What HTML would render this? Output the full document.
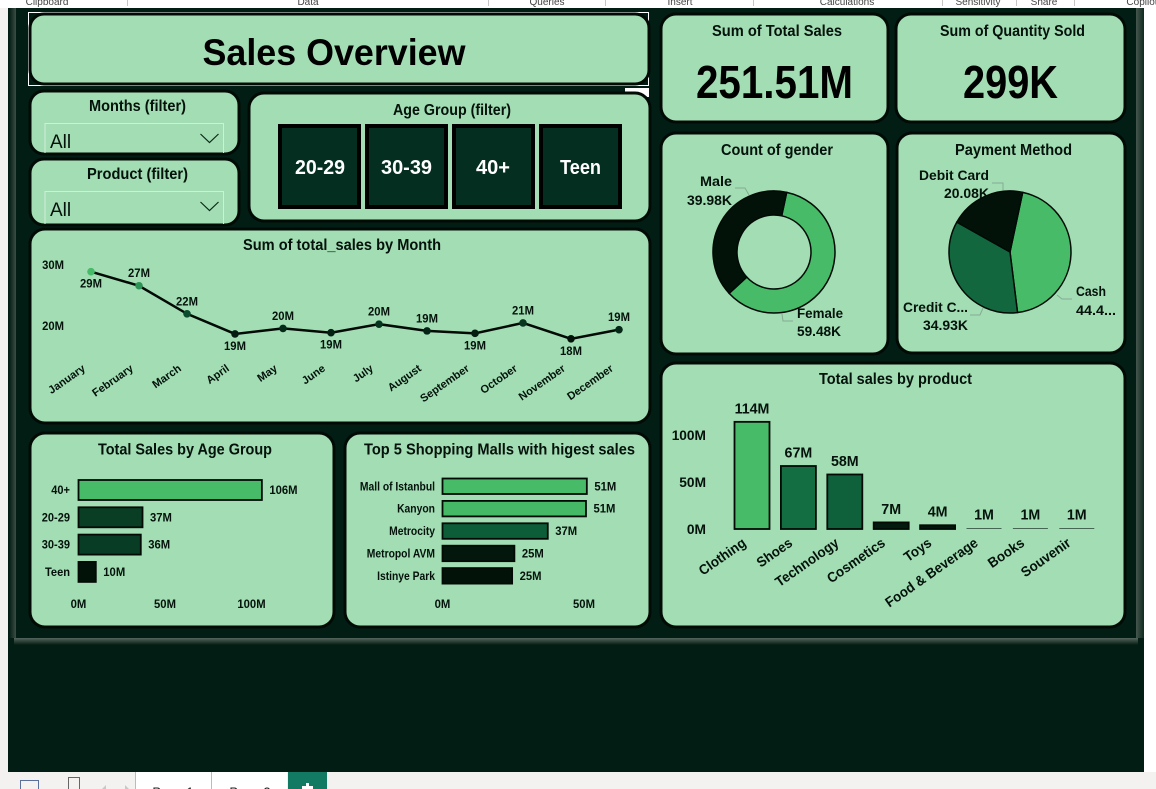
<!DOCTYPE html>
<html lang="en">
<head>
<meta charset="utf-8">
<title>Sales Overview</title>
<style>
html,body{margin:0;padding:0;width:1156px;height:789px;overflow:hidden;background:#fff}
svg{display:block;font-family:"Liberation Sans",sans-serif}
text{fill:#04120b;font-weight:bold}
.panel{fill:#a2ddb4;stroke:#020a06;stroke-width:3}
.light{font-weight:normal}
.leader{fill:none;stroke:#86ab93;stroke-width:1}
</style>
</head>
<body>
<svg id="dash" width="1156" height="789" viewBox="0 0 1156 789" xmlns="http://www.w3.org/2000/svg">
<defs>
<linearGradient id="gl" x1="0" x2="1" y1="0" y2="0"><stop offset="0" stop-color="#021d13"/><stop offset="1" stop-color="#3c4d45"/></linearGradient>
<linearGradient id="gr" x1="0" x2="1" y1="0" y2="0"><stop offset="0" stop-color="#46564e"/><stop offset="1" stop-color="#0e2a20"/></linearGradient>
<linearGradient id="gb" x1="0" x2="0" y1="0" y2="1"><stop offset="0" stop-color="#55655d"/><stop offset="1" stop-color="#021d13"/></linearGradient>
</defs>
<g>
<rect width="1156" height="789" fill="#ffffff"/>
<rect x="0" y="0" width="8" height="789" fill="#f3f2f1"/>
<rect x="0" y="0" width="1156" height="8" fill="#ffffff"/>
<rect x="8" y="8" width="1136" height="764" fill="#021d13"/>
<rect x="9" y="8" width="7" height="630" fill="url(#gl)"/>
<rect x="1136" y="8" width="8" height="630" fill="url(#gr)"/>
<rect x="14" y="638" width="1124" height="7" fill="url(#gb)"/>
<rect x="0" y="772" width="1156" height="17" fill="#f3f2f1"/>
<g font-size="10">
<text class="light" style="fill:#444" x="47" y="5" text-anchor="middle">Clipboard</text>
<text class="light" style="fill:#444" x="308" y="5" text-anchor="middle">Data</text>
<text class="light" style="fill:#444" x="547" y="5" text-anchor="middle">Queries</text>
<text class="light" style="fill:#444" x="680" y="5" text-anchor="middle">Insert</text>
<text class="light" style="fill:#444" x="847" y="5" text-anchor="middle">Calculations</text>
<text class="light" style="fill:#444" x="978" y="5" text-anchor="middle">Sensitivity</text>
<text class="light" style="fill:#444" x="1044" y="5" text-anchor="middle">Share</text>
<text class="light" style="fill:#444" x="1142" y="5" text-anchor="middle">Copilot</text>
</g>
<g stroke="#c8c6c4" stroke-width="1">
<line x1="127.500" y1="0" x2="127.500" y2="6"/><line x1="488.500" y1="0" x2="488.500" y2="6"/><line x1="605.500" y1="0" x2="605.500" y2="6"/><line x1="753.500" y1="0" x2="753.500" y2="6"/><line x1="942.500" y1="0" x2="942.500" y2="6"/><line x1="1016.500" y1="0" x2="1016.500" y2="6"/><line x1="1074.500" y1="0" x2="1074.500" y2="6"/>
</g>
<rect x="20.500" y="780.500" width="18" height="12" fill="none" stroke="#5a6f9a"/>
<rect x="68.500" y="777.500" width="11" height="15" fill="none" stroke="#666"/>
<path d="M106 785l-4 4h4zM125 785l4 4h-4z" fill="#c8c8c8"/>
<rect x="136" y="772" width="75" height="17" fill="#ffffff"/>
<rect x="212" y="772" width="75" height="17" fill="#ffffff"/>
<line x1="135.500" y1="772" x2="135.500" y2="789" stroke="#bdbbb9"/>
<line x1="211.500" y1="772" x2="211.500" y2="789" stroke="#bdbbb9"/>
<text class="light" style="fill:#222" x="173" y="796.500" font-size="13" text-anchor="middle">Page 1</text>
<text class="light" style="fill:#222" x="250" y="796.500" font-size="13" text-anchor="middle">Page 2</text>
<rect x="288" y="772" width="39" height="17" fill="#127a63"/>
<path d="M307.500 783v6M302 787.500h11" stroke="#fff" stroke-width="3"/>
</g>

<g>
<rect x="28.500" y="12.500" width="620" height="73" fill="none" stroke="#ffffff" stroke-width="1"/>
<rect class="panel" x="30" y="14" width="619" height="70" rx="14"/>
<text x="334" y="65" font-size="37" text-anchor="middle" textLength="263" lengthAdjust="spacingAndGlyphs" style="fill:#000">Sales Overview</text>
</g>

<g>
<rect class="panel" x="30" y="91" width="209" height="63" rx="14"/>
<text x="137.500" y="111" font-size="15.500" text-anchor="middle" textLength="97" lengthAdjust="spacingAndGlyphs">Months (filter)</text>
<path d="M45 153V123.500H223.500V153" fill="none" stroke="#d2eeda" stroke-width="1"/>
<text class="light" x="50" y="148" font-size="19">All</text>
<path d="M200.500 134l9 8.500 9-8.500" fill="none" stroke="#0c2a1a" stroke-width="1.200"/>
</g>
<g>
<rect class="panel" x="30" y="159" width="209" height="66" rx="14"/>
<text x="137.500" y="179" font-size="15.500" text-anchor="middle" textLength="101" lengthAdjust="spacingAndGlyphs">Product (filter)</text>
<path d="M45 224V191.500H223.500V224" fill="none" stroke="#d2eeda" stroke-width="1"/>
<text class="light" x="50" y="216" font-size="19">All</text>
<path d="M200.500 202l9 8.500 9-8.500" fill="none" stroke="#0c2a1a" stroke-width="1.200"/>
</g>

<rect x="625" y="88" width="24" height="9" fill="#ffffff"/>
<g>
<rect class="panel" x="249" y="93" width="401" height="128" rx="15"/>
<text x="452" y="115" font-size="15.500" text-anchor="middle" textLength="118" lengthAdjust="spacingAndGlyphs">Age Group (filter)</text>
<g stroke="#000" stroke-width="4" fill="#032e20">
<rect x="280" y="126" width="79" height="81"/>
<rect x="367" y="126" width="79" height="81"/>
<rect x="454" y="126" width="79" height="81"/>
<rect x="541" y="126" width="79" height="81"/>
</g>
<g font-size="20" text-anchor="middle">
<text style="fill:#fff" x="320" y="174" textLength="50" lengthAdjust="spacingAndGlyphs">20-29</text>
<text style="fill:#fff" x="406.500" y="174" textLength="51" lengthAdjust="spacingAndGlyphs">30-39</text>
<text style="fill:#fff" x="493" y="174" textLength="34" lengthAdjust="spacingAndGlyphs">40+</text>
<text style="fill:#fff" x="580.500" y="174" textLength="41" lengthAdjust="spacingAndGlyphs">Teen</text>
</g>
</g>

<g>
<rect class="panel" x="661" y="14" width="227" height="108" rx="15"/>
<text x="777" y="36" font-size="16" text-anchor="middle" textLength="130" lengthAdjust="spacingAndGlyphs">Sum of Total Sales</text>
<text x="774.500" y="98" font-size="46" text-anchor="middle" textLength="157" lengthAdjust="spacingAndGlyphs" style="fill:#000">251.51M</text>
</g>
<g>
<rect class="panel" x="896" y="14" width="229" height="108" rx="15"/>
<text x="1012.500" y="36" font-size="16" text-anchor="middle" textLength="145" lengthAdjust="spacingAndGlyphs">Sum of Quantity Sold</text>
<text x="1010.500" y="98" font-size="46" text-anchor="middle" textLength="95" lengthAdjust="spacingAndGlyphs" style="fill:#000">299K</text>
</g>

<rect class="panel" x="661" y="133" width="227" height="221" rx="15"/>
<text x="777" y="155" font-size="16" text-anchor="middle" textLength="112" lengthAdjust="spacingAndGlyphs">Count of gender</text>
<rect class="panel" x="897" y="133" width="228" height="220" rx="15"/>
<text x="1013.500" y="155" font-size="16" text-anchor="middle" textLength="117" lengthAdjust="spacingAndGlyphs">Payment Method</text>
<rect class="panel" x="30" y="229" width="620" height="194" rx="15"/>
<text x="342" y="250" font-size="16" text-anchor="middle" textLength="198" lengthAdjust="spacingAndGlyphs">Sum of total_sales by Month</text>
<rect class="panel" x="30" y="433" width="304" height="194" rx="15"/>
<text x="185" y="454.500" font-size="16" text-anchor="middle" textLength="174" lengthAdjust="spacingAndGlyphs">Total Sales by Age Group</text>
<rect class="panel" x="345" y="433" width="305" height="194" rx="15"/>
<text x="499.500" y="454.500" font-size="16" text-anchor="middle" textLength="271" lengthAdjust="spacingAndGlyphs">Top 5 Shopping Malls with higest sales</text>
<rect class="panel" x="661" y="363" width="464" height="264" rx="15"/>
<text x="895.500" y="384" font-size="16" text-anchor="middle" textLength="153" lengthAdjust="spacingAndGlyphs">Total sales by product</text>

<g id="gender-chart"></g>
<g id="payment-chart"></g>
<g id="monthly-chart"></g>
<g id="age-chart"></g>
<g id="mall-chart"></g>
<g id="product-chart"></g>

<g font-size="14">
<polyline class="leader" points="735,188 745,188 749,195"/>
<polyline class="leader" points="782,314 783,321 793,321"/>
<polyline class="leader" points="1003,190 1003,183 992,183"/>
<polyline class="leader" points="1057,295 1062,299 1072,299"/>
<polyline class="leader" points="983,308 980,315 970,315"/>
<text x="732" y="186" text-anchor="end" textLength="32" lengthAdjust="spacingAndGlyphs">Male</text>
<text x="732" y="205" text-anchor="end" textLength="45" lengthAdjust="spacingAndGlyphs">39.98K</text>
<text x="797" y="318" textLength="46" lengthAdjust="spacingAndGlyphs">Female</text>
<text x="797" y="336" textLength="44" lengthAdjust="spacingAndGlyphs">59.48K</text>
<text x="989" y="180" text-anchor="end" textLength="70" lengthAdjust="spacingAndGlyphs">Debit Card</text>
<text x="989" y="198" text-anchor="end" textLength="45" lengthAdjust="spacingAndGlyphs">20.08K</text>
<text x="1076" y="296" textLength="30" lengthAdjust="spacingAndGlyphs">Cash</text>
<text x="1076" y="315" textLength="40" lengthAdjust="spacingAndGlyphs">44.4...</text>
<text x="968" y="312" text-anchor="end" textLength="65" lengthAdjust="spacingAndGlyphs">Credit C...</text>
<text x="968" y="330" text-anchor="end" textLength="45" lengthAdjust="spacingAndGlyphs">34.93K</text>
</g>
</svg>
<script>
var genderValues = [59.48, 39.98];
var genderNames = ['female', 'male'];
var paymentValues = [44.45, 34.93, 20.08];
var paymentNames = ['cash', 'credit-card', 'debit-card'];
var months = ['January','February','March','April','May','June','July','August','September','October','November','December'];
var monthlySales = [28.9, 26.6, 22, 18.7, 19.6, 18.9, 20.3, 19.2, 18.8, 20.5, 17.9, 19.4];
var monthlyTicks = [20, 30];
var ageGroups = ['40+', '20-29', '30-39', 'Teen'];
var ageSales = [106, 37, 36, 10];
var ageTicks = [0, 50, 100];
var malls = ['Mall of Istanbul', 'Kanyon', 'Metrocity', 'Metropol AVM', 'Istinye Park'];
var mallSales = [51, 50.7, 37.2, 25.4, 24.6];
var mallTicks = [0, 50];
var products = ['Clothing', 'Shoes', 'Technology', 'Cosmetics', 'Toys', 'Food & Beverage', 'Books', 'Souvenir'];
var productSales = [114, 67, 58, 7, 4, 1, 1, 1];
var productTicks = [0, 50, 100];

var NS = 'http://www.w3.org/2000/svg';
function make(parent, tag, name, attrs) {
  var el = document.createElementNS(NS, tag);
  
  
  for (var k in attrs) el.setAttribute(k, attrs[k]);
  parent.appendChild(el);
  return el;
}
function label(parent, name, str, x, y, size, anchor, squeeze) {
  var el = make(parent, 'text', name, {x: x, y: y, 'font-size': size, 'text-anchor': anchor});
  el.textContent = str;
  if (squeeze) {
    el.setAttribute('textLength', (el.getComputedTextLength() * squeeze).toFixed(1));
    el.setAttribute('lengthAdjust', 'spacingAndGlyphs');
  }
  return el;
}
function mix(a, b, t) {
  var r = [];
  for (var i = 0; i < 3; i++) r.push(Math.round(a[i] + (b[i] - a[i]) * t));
  return 'rgb(' + r.join(',') + ')';
}
function ramp(v, lo, hi) {
  var t = hi > lo ? Math.max(0, Math.min(1, (v - lo) / (hi - lo))) : 1;
  var dark = [2, 18, 9], mid = [15, 104, 63], green = [71, 187, 104];
  return t < 0.55 ? mix(dark, mid, t / 0.55) : mix(mid, green, (t - 0.55) / 0.45);
}
function fmtM(v) { return Math.round(v) + 'M'; }
function sum(a) { return a.reduce(function (p, c) { return p + c; }, 0); }
function polar(cx, cy, r, deg) {
  var a = (deg - 90) * Math.PI / 180;
  return [cx + r * Math.cos(a), cy + r * Math.sin(a)];
}
function slicePath(cx, cy, r, r0, a0, a1) {
  var large = a1 - a0 > 180 ? 1 : 0;
  var p1 = polar(cx, cy, r, a0), p2 = polar(cx, cy, r, a1);
  if (r0 === 0) {
    return 'M' + cx + ' ' + cy + 'L' + p1[0] + ' ' + p1[1] + 'A' + r + ' ' + r + ' 0 ' + large + ' 1 ' + p2[0] + ' ' + p2[1] + 'Z';
  }
  var p3 = polar(cx, cy, r0, a1), p4 = polar(cx, cy, r0, a0);
  return 'M' + p1[0] + ' ' + p1[1] + 'A' + r + ' ' + r + ' 0 ' + large + ' 1 ' + p2[0] + ' ' + p2[1] +
    'L' + p3[0] + ' ' + p3[1] + 'A' + r0 + ' ' + r0 + ' 0 ' + large + ' 0 ' + p4[0] + ' ' + p4[1] + 'Z';
}
function drawRing(parent, values, names, colors, cx, cy, r, r0, startDeg) {
  var total = sum(values), a = startDeg;
  values.forEach(function (v, i) {
    var next = a + v / total * 360;
    make(parent, 'path', names[i] + '-slice', {d: slicePath(cx, cy, r, r0, a, next), fill: colors[i], stroke: '#020a06', 'stroke-width': 1.5});
    a = next;
  });
}
drawRing(document.getElementById('gender-chart'), genderValues, genderNames, ['#47bb68', '#021209'], 774, 252, 61, 37, 12);
drawRing(document.getElementById('payment-chart'), paymentValues, paymentNames, ['#47bb68', '#13673f', '#021209'], 1010, 252, 61, 0, 12);

(function () {
  var g = document.getElementById('monthly-chart');
  function xs(i) { return 91 + i * 48; }
  function ys(v) { return 326 - (v - 20) * 6.1; }
  var lo = Math.min.apply(null, monthlySales), hi = Math.max.apply(null, monthlySales);
  monthlyTicks.forEach(function (t) {
    label(g, 'y-tick-' + t, t + 'M', 64, ys(t) + 4, 12, 'end', 0.94);
  });
  make(g, 'polyline', 'monthly-sales-line', {
    points: monthlySales.map(function (v, i) { return xs(i) + ',' + ys(v); }).join(' '),
    fill: 'none', stroke: '#020a06', 'stroke-width': 2.5
  });
  monthlySales.forEach(function (v, i) {
    var x = xs(i), y = ys(v);
    var isMin = i > 0 && i < monthlySales.length - 1 && v < monthlySales[i - 1] && v < monthlySales[i + 1];
    var below = i === 0 || isMin;
    make(g, 'circle', 'point-' + months[i].toLowerCase(), {cx: x, cy: y, r: 3.8, fill: ramp(v, lo, hi)});
    label(g, 'value-' + months[i].toLowerCase(), fmtM(v), x, below ? y + 16 : y - 8.500, 12, 'middle', 0.94);
    var ax = x - 5, ay = 370;
    var tick = label(g, 'x-tick-' + months[i].toLowerCase(), months[i], ax, ay, 11, 'end');
    tick.setAttribute('transform', 'rotate(-35 ' + ax + ' ' + ay + ')');
  });
})();

function hBars(g, cats, vals, ticks, x0, pxPerM, top, step, h, tickY, catX, catSquash) {
  var lo = Math.min.apply(null, vals), hi = Math.max.apply(null, vals);
  function xs(v) { return x0 + v * pxPerM; }
  vals.forEach(function (v, i) {
    var y = top + i * step, slug = cats[i].toLowerCase().replace(/[^a-z0-9]+/g, '-');
    make(g, 'rect', 'bar-' + slug, {x: x0, y: y, width: xs(v) - x0, height: h, fill: ramp(v, lo, hi), stroke: '#020a06', 'stroke-width': 1.800});
    label(g, 'category-' + slug, cats[i], catX, y + h / 2 + 4, 12, 'end', catSquash);
    label(g, 'value-' + slug, fmtM(v), xs(v) + 7.500, y + h / 2 + 4, 12, 'start', 0.94);
  });
  ticks.forEach(function (t) {
    label(g, 'x-tick-' + t, t + 'M', xs(t), tickY, 12, 'middle', 0.94);
  });
}
hBars(document.getElementById('age-chart'), ageGroups, ageSales, ageTicks, 78.500, 1.73, 480, 27.3, 20, 608, 70, 0.92);
hBars(document.getElementById('mall-chart'), malls, mallSales, mallTicks, 442.500, 2.83, 478.500, 22.4, 15.500, 608, 435, 0.86);

(function () {
  var g = document.getElementById('product-chart');
  var base = 529, k = 0.94, w = 35;
  function xs(i) { return 752 + i * 46.4; }
  function ys(v) { return base - v * k; }
  var lo = Math.min.apply(null, productSales), hi = Math.max.apply(null, productSales);
  productTicks.forEach(function (t) {
    label(g, 'y-tick-' + t, t + 'M', 706, ys(t) + 5, 14, 'end', 0.98);
  });
  productSales.forEach(function (v, i) {
    var slug = products[i].toLowerCase().replace(/[^a-z0-9]+/g, '-');
    var thin = v < 2;
    make(g, 'rect', 'column-' + slug, {
      x: xs(i) - w / 2, y: ys(v), width: w, height: base - ys(v),
      fill: thin ? '#3f5f4c' : ramp(v, lo, hi),
      stroke: thin ? 'none' : '#020a06', 'stroke-width': 1.800
    });
    label(g, 'value-' + slug, fmtM(v), xs(i), ys(v) - 8.500, 14.500, 'middle', 0.98);
    var ax = xs(i) - 5, ay = 545;
    var tick = label(g, 'x-tick-' + slug, products[i], ax, ay, 14, 'end', 0.95);
    tick.setAttribute('transform', 'rotate(-35 ' + ax + ' ' + ay + ')');
  });
})();
</script>
</body>
</html>
